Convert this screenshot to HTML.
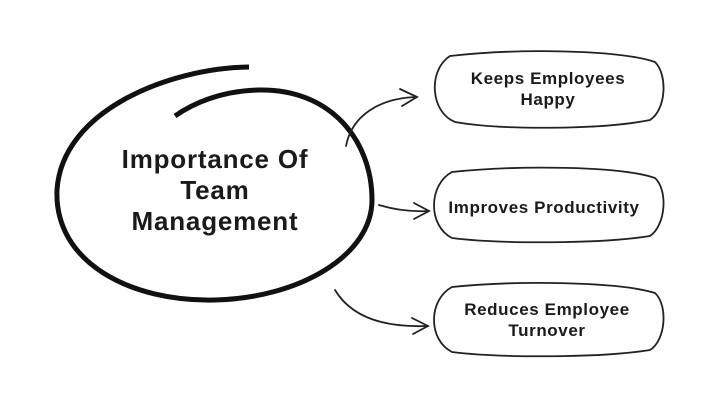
<!DOCTYPE html>
<html><head><style>
html,body{margin:0;padding:0;background:#fff;}
svg{display:block}
text{font-family:"Liberation Sans",sans-serif;font-weight:bold;fill:#1a1a1a;text-anchor:middle}
</style></head><body>
<svg width="720" height="404" viewBox="0 0 720 404">
<path d="M249,67 C170,68 62,110 57,190 C54,262 130,302 215,300 C300,298 372,255 372,200 C372,140 330,88 258,90 C220,91 192,104 175,116" fill="none" stroke="#111" stroke-width="5" stroke-linecap="butt"/>
<text x="215" y="168" font-size="26" letter-spacing="0.8">Importance Of</text>
<text x="215" y="199" font-size="26" letter-spacing="0.8">Team</text>
<text x="215" y="230" font-size="26" letter-spacing="0.8">Management</text>
<g fill="none" stroke="#222" stroke-width="1.8" stroke-linecap="round">
<path d="M346,146 C352,115 380,98 417,97"/><path d="M400,89 L417,97 L402,106"/>
<path d="M379,205 C395,210 410,212 429,211"/><path d="M414,203 L429,211 L414,219"/>
<path d="M335,290 C350,315 380,328 428,326"/><path d="M412,318 L428,326 L413,334"/>
<path d="M450,56 C520,48 620,50 655,62 C668,75 666,110 650,120 C600,130 500,130 455,122 C430,112 428,70 450,56 Z"/>
<path d="M452,172 C520,165 620,166 655,178 C668,190 666,225 650,236 C600,244 500,244 452,238 C428,226 428,185 452,172 Z"/>
<path d="M452,287 C520,280 620,282 655,293 C668,305 666,340 650,350 C600,358 500,358 452,352 C428,340 428,300 452,287 Z"/>
</g>
<text x="548" y="84" font-size="17" letter-spacing="0.6">Keeps Employees</text>
<text x="548" y="105" font-size="17" letter-spacing="0.6">Happy</text>
<text x="544" y="213" font-size="17" letter-spacing="0.6">Improves Productivity</text>
<text x="547" y="315" font-size="17" letter-spacing="0.6">Reduces Employee</text>
<text x="547" y="336" font-size="17" letter-spacing="0.6">Turnover</text>
</svg>
</body></html>
